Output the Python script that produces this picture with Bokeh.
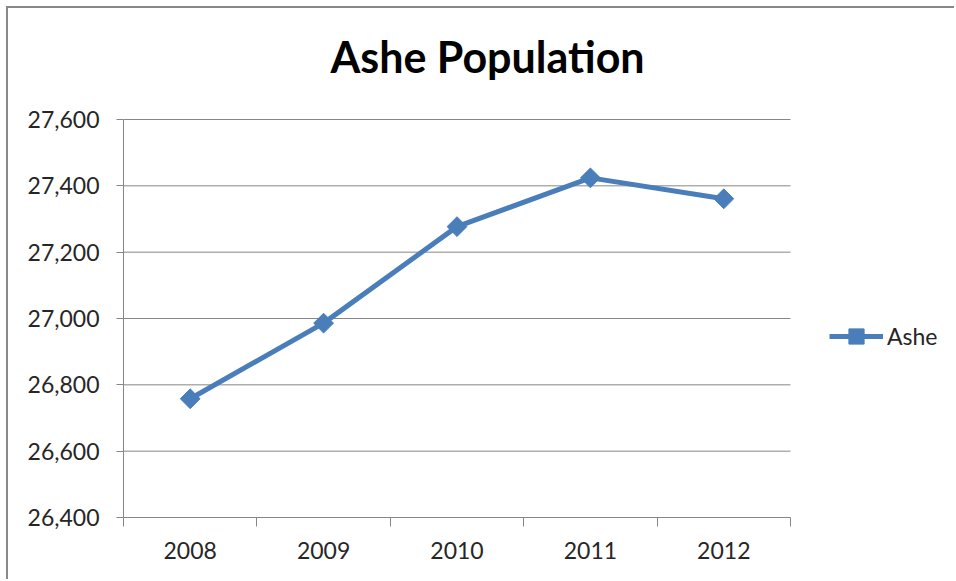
import numpy as np
from bokeh.plotting import figure
from bokeh.models import (FixedTicker, NumeralTickFormatter, Legend, LegendItem,
                          ColumnDataSource, Range1d, Label)
from bokeh.embed import file_html
from bokeh.resources import INLINE

# Ashe County population by year
years = ["2008", "2009", "2010", "2011", "2012"]
population = [26758, 26986, 27277, 27424, 27361]
y_ticks = [26400, 26600, 26800, 27000, 27200, 27400, 27600]
chart_title = "Ashe Population"
series_name = "Ashe"

x_pos = list(range(1, len(years) + 1))
x_lo, x_hi = 0.5, len(years) + 0.5
y_lo, y_hi = y_ticks[0], y_ticks[-1]
src = ColumnDataSource(dict(x=x_pos, y=population))

LINE_BLUE = "#4a7ebb"
GRID_GRAY = "#868686"
TEXT_DARK = "#262626"
FONT = "Lato"

W, H = 948, 573
LEFT, BOTTOM = 115, 64          # room for the axes
PLOT_W, PLOT_H = 667, 398       # pixel size of the category/value area
TOP_ROOM = H - BOTTOM - PLOT_H  # space above the value area (title lives here)

# The drawing frame fills the canvas to the right and top, so the title and
# legend can sit inside it; axis lines and gridlines stop at the data area.
p = figure(width=W, height=H, output_backend="svg", toolbar_location=None,
           x_range=Range1d(x_lo, x_lo + (W - LEFT) * (x_hi - x_lo) / PLOT_W),
           y_range=Range1d(y_lo, y_hi + TOP_ROOM * (y_hi - y_lo) / PLOT_H),
           min_border_left=LEFT, min_border_right=0,
           min_border_top=0, min_border_bottom=BOTTOM)
p.styles = {"margin-left": "6px", "margin-top": "6px",
            "border-left": "2px solid #898989", "border-top": "2px solid #898989"}

p.outline_line_color = None
p.background_fill_color = "white"
p.border_fill_color = "white"

# x axis: labels at category centres, tick marks between categories
p.xaxis.ticker = FixedTicker(ticks=x_pos,
                             minor_ticks=[i + 0.5 for i in range(0, len(years) + 1)])
p.xaxis.bounds = (x_lo, x_hi)
p.xaxis.major_label_overrides = {i: y for i, y in zip(x_pos, years)}
p.xaxis.major_tick_out = 0
p.xaxis.major_tick_in = 0
p.xaxis.minor_tick_out = 9
p.xaxis.minor_tick_in = 0
p.xaxis.minor_tick_line_color = GRID_GRAY
p.xaxis.axis_line_color = GRID_GRAY
p.xaxis.major_label_standoff = 15
p.xgrid.grid_line_color = None

# y axis
p.yaxis.ticker = FixedTicker(ticks=y_ticks, minor_ticks=[])
p.yaxis.bounds = (y_lo, y_hi)
p.yaxis.formatter = NumeralTickFormatter(format="0,0")
p.yaxis.major_tick_out = 7
p.yaxis.major_tick_in = 0
p.yaxis.major_tick_line_color = GRID_GRAY
p.yaxis.axis_line_color = GRID_GRAY
p.yaxis.major_label_standoff = 17
p.ygrid.grid_line_color = None

# horizontal gridlines spanning the category area only
grid_y = y_ticks[1:]
p.segment(x0=[x_lo] * len(grid_y), x1=[x_hi] * len(grid_y), y0=grid_y, y1=grid_y,
          line_color=GRID_GRAY, line_width=1)

for ax in (p.xaxis, p.yaxis):
    ax.major_label_text_font = FONT
    ax.major_label_text_font_size = "23px"
    ax.major_label_text_color = TEXT_DARK

line = p.line("x", "y", source=src, line_color=LINE_BLUE, line_width=5)
marks = p.scatter("x", "y", source=src, marker="square", angle=np.pi / 4,
                  size=14, fill_color=LINE_BLUE, line_color=LINE_BLUE)

# chart title, centred over the whole chart
p.add_layout(Label(x=364, y=461, x_units="screen", y_units="screen",
                   text=chart_title, text_align="center", text_baseline="alphabetic",
                   text_font=FONT, text_font_size="43px", text_font_style="bold",
                   text_color="black"))

# legend to the right of the category area
legend = Legend(items=[LegendItem(label=series_name, renderers=[line, marks])],
                location=(706, 162), orientation="vertical")
legend.label_text_font = FONT
legend.label_text_font_size = "23px"
legend.label_text_color = TEXT_DARK
legend.glyph_width = 54
legend.glyph_height = 38
legend.label_standoff = 4
legend.border_line_color = None
legend.background_fill_alpha = 0
legend.padding = 0
legend.margin = 0
p.add_layout(legend, "center")

open("out.html", "w").write(file_html(p, INLINE))
